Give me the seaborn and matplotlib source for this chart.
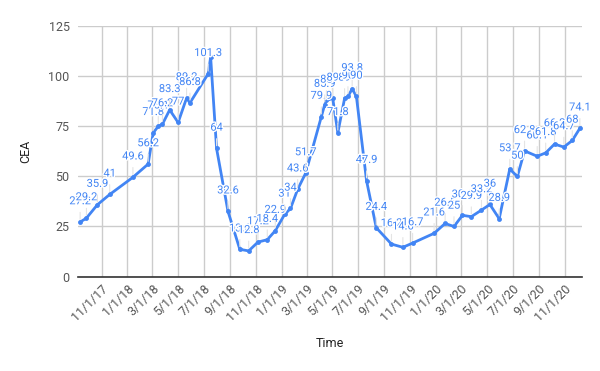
import pandas as pd
import seaborn as sns
import matplotlib.pyplot as plt
import matplotlib.dates as mdates
import matplotlib.patheffects as pe

# Data
dates = ['2017-09-11', '2017-09-26', '2017-10-22', '2017-11-20', '2018-01-14',
         '2018-02-19', '2018-03-03', '2018-03-15', '2018-03-25', '2018-04-11',
         '2018-05-01', '2018-05-21', '2018-05-29', '2018-07-11', '2018-07-17',
         '2018-07-31', '2018-08-27', '2018-09-24', '2018-10-15', '2018-11-06',
         '2018-11-28', '2018-12-17', '2019-01-08', '2019-01-22', '2019-02-08',
         '2019-02-27', '2019-04-05', '2019-04-13', '2019-04-17', '2019-05-02',
         '2019-05-14', '2019-05-30', '2019-06-07', '2019-06-17', '2019-06-27',
         '2019-07-21', '2019-08-13', '2019-09-18', '2019-10-15', '2019-11-07',
         '2019-12-28', '2020-01-23', '2020-02-13', '2020-03-04', '2020-03-25',
         '2020-04-18', '2020-05-08', '2020-05-30', '2020-06-24', '2020-07-12',
         '2020-07-29', '2020-08-28', '2020-09-17', '2020-10-08', '2020-10-30',
         '2020-11-19', '2020-12-07']
cea = [27.2, 29.2, 35.9, 41, 49.6, 56.2, 71.8, 75.1, 76.2, 83.3,
       77, 89.2, 86.8, 101.3, 109.6, 64, 32.6, 13.6, 12.8, 17.2,
       18.4, 22.9, 31, 34, 43.6, 51.7, 79.9, 85.9, 88, 89,
       71.8, 89, 90, 93.8, 90, 47.9, 24.4, 16.2, 14.6, 16.7,
       21.6, 26.5, 25, 30.6, 29.9, 33.2, 36, 28.9, 53.7, 50,
       62.8, 60.1, 61.8, 66.2, 64.7, 68, 74.1]
hidden_labels = ['2018-07-17']  # label not shown in the original

tick_dates = pd.date_range('2017-11-01', '2020-11-01', freq='2MS')
y_ticks = [0, 25, 50, 75, 100, 125]

df = pd.DataFrame({'Time': pd.to_datetime(dates), 'CEA': cea})

sns.set_style('white')
plt.rcParams['font.family'] = ['Roboto', 'DejaVu Sans']

blue = '#4285F4'
fig = plt.figure(figsize=(6, 3.71), dpi=100)
ax = fig.add_axes([0.13, 0.2547, 0.84, 0.674])

sns.lineplot(data=df, x='Time', y='CEA', ax=ax, color=blue, linewidth=2,
             marker='o', markersize=3.5, markeredgewidth=0, zorder=3)

# data labels with faint stems
for d, v in zip(df['Time'], df['CEA']):
    if d.strftime('%Y-%m-%d') in hidden_labels:
        continue
    ax.annotate(f'{v:g}', xy=(d, v), xytext=(0, 15), textcoords='offset points',
                ha='center', va='center', fontsize=8, color=blue, zorder=4,
                path_effects=[pe.withStroke(linewidth=2, foreground='white')],
                arrowprops=dict(arrowstyle='-', color='#e4e4e4', lw=0.8,
                                shrinkA=2, shrinkB=2),
                annotation_clip=False)

ax.set_xlim(pd.Timestamp('2017-09-06'), pd.Timestamp('2020-12-12'))
ax.set_ylim(0, 125)
ax.set_xticks(tick_dates)
ax.xaxis.set_major_formatter(
    plt.FuncFormatter(lambda x, p: (lambda t: f'{t.month}/{t.day}/{t.strftime("%y")}')(mdates.num2date(x))))
ax.set_yticks(y_ticks)

ax.grid(True, color='#cccccc', linewidth=1)
ax.set_axisbelow(True)
for s in ['top', 'right', 'left']:
    ax.spines[s].set_visible(False)
ax.spines['bottom'].set_color('#333333')
ax.spines['bottom'].set_linewidth(1.2)
ax.spines['bottom'].set_zorder(5)

ax.tick_params(axis='both', length=0, colors='#555555', labelsize=9)
ax.tick_params(axis='y', pad=6)
plt.setp(ax.get_xticklabels(), rotation=45, ha='right', rotation_mode='anchor')
ax.tick_params(axis='x', pad=4)

ax.set_xlabel('Time', fontsize=9, color='#222222', labelpad=10)
ax.set_ylabel('CEA', fontsize=9, color='#222222', labelpad=12)

fig.savefig('out.png', dpi=100)
